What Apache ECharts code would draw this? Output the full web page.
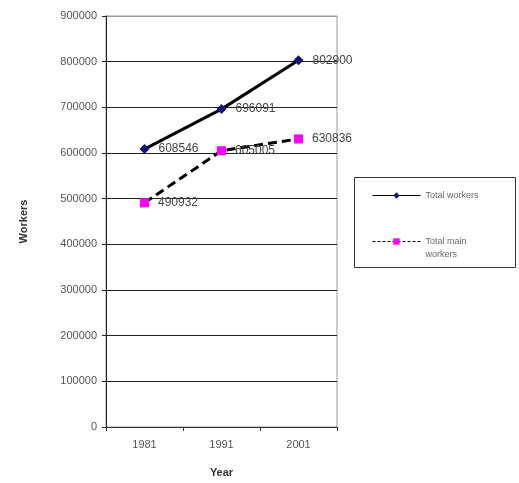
<!DOCTYPE html>
<html>
<head>
<meta charset="utf-8">
<script src="https://cdn.jsdelivr.net/npm/echarts@6/dist/echarts.min.js"></script>
<style>
  html, body { margin: 0; padding: 0; background: #fff; }
  #chart { width: 519px; height: 483px; }
</style>
</head>
<body>
<div id="chart"></div>
<script>
// Census years and worker counts
const years = ['1981', '1991', '2001'];
const totalWorkers = [608546, 696091, 802900];
const totalMainWorkers = [490932, 605005, 630836];
const yTicks = [0, 100000, 200000, 300000, 400000, 500000, 600000, 700000, 800000, 900000];

const FONT = 'Liberation Sans, Arial, sans-serif';
const labelStyle = {
  show: true,
  position: 'right',
  distance: 9,
  color: '#444',
  fontFamily: FONT,
  fontSize: 12
};

// gridline colours: dark inner lines, light top edge
const splitColors = yTicks.map((v, i) => (i === yTicks.length - 1 ? '#999' : '#222'));

const chart = echarts.init(document.getElementById('chart'), null, { renderer: 'canvas' });
chart.setOption({
  animation: false,
  backgroundColor: '#fff',
  grid: {
    left: 106, right: 182, top: 16, bottom: 53,
    show: true, borderColor: '#999', borderWidth: 1
  },
  xAxis: {
    type: 'category',
    data: years,
    boundaryGap: true,
    name: 'Year',
    nameLocation: 'middle',
    nameGap: 40,
    nameTextStyle: { fontFamily: FONT, fontSize: 11, fontWeight: 'bold', color: '#333' },
    axisLine: { lineStyle: { color: '#333', width: 1 } },
    axisTick: { show: true, length: 4, lineStyle: { color: '#333' } },
    axisLabel: { fontFamily: FONT, fontSize: 11, color: '#555', margin: 12 }
  },
  yAxis: {
    type: 'value',
    min: yTicks[0],
    max: yTicks[yTicks.length - 1],
    interval: 100000,
    name: 'Workers',
    nameLocation: 'middle',
    nameGap: 77,
    nameTextStyle: { fontFamily: FONT, fontSize: 11, fontWeight: 'bold', color: '#333' },
    axisLine: { show: true, lineStyle: { color: '#222', width: 1 } },
    axisTick: { show: true, length: 4, lineStyle: { color: '#222' } },
    axisLabel: { fontFamily: FONT, fontSize: 11, color: '#555', margin: 9, formatter: v => String(v) },
    splitLine: { show: true, lineStyle: { color: splitColors, width: 1 } }
  },
  legend: {
    orient: 'vertical',
    left: 372,
    top: 189,
    itemWidth: 48,
    itemHeight: 8,
    itemGap: 20,
    padding: 0,
    lineStyle: { width: 1 },
    // two-line names keep their first line level with the icon
    formatter: name => (name.indexOf('\n') >= 0 ? '\n' + name : name),
    textStyle: { fontFamily: FONT, fontSize: 9, color: '#666', lineHeight: 13 },
    data: [
      { name: 'Total workers' },
      { name: 'Total main\nworkers', lineStyle: { width: 1, type: [3, 2] } }
    ]
  },
  graphic: [{
    type: 'rect',
    shape: { x: 354.5, y: 177.5, width: 161, height: 90 },
    style: { fill: 'none', stroke: '#333', lineWidth: 1 },
    z: 10
  }],
  series: [
    {
      name: 'Total workers',
      type: 'line',
      data: totalWorkers,
      symbol: 'diamond',
      symbolSize: 10,
      itemStyle: { color: '#101080' },
      lineStyle: { color: '#000', width: 3 },
      label: labelStyle,
      z: 3
    },
    {
      name: 'Total main\nworkers',
      type: 'line',
      data: totalMainWorkers,
      symbol: 'rect',
      symbolSize: 9,
      itemStyle: { color: '#ff00ff' },
      lineStyle: { color: '#000', width: 3, type: [9, 5] },
      label: labelStyle,
      z: 2
    }
  ]
});
</script>
</body>
</html>
